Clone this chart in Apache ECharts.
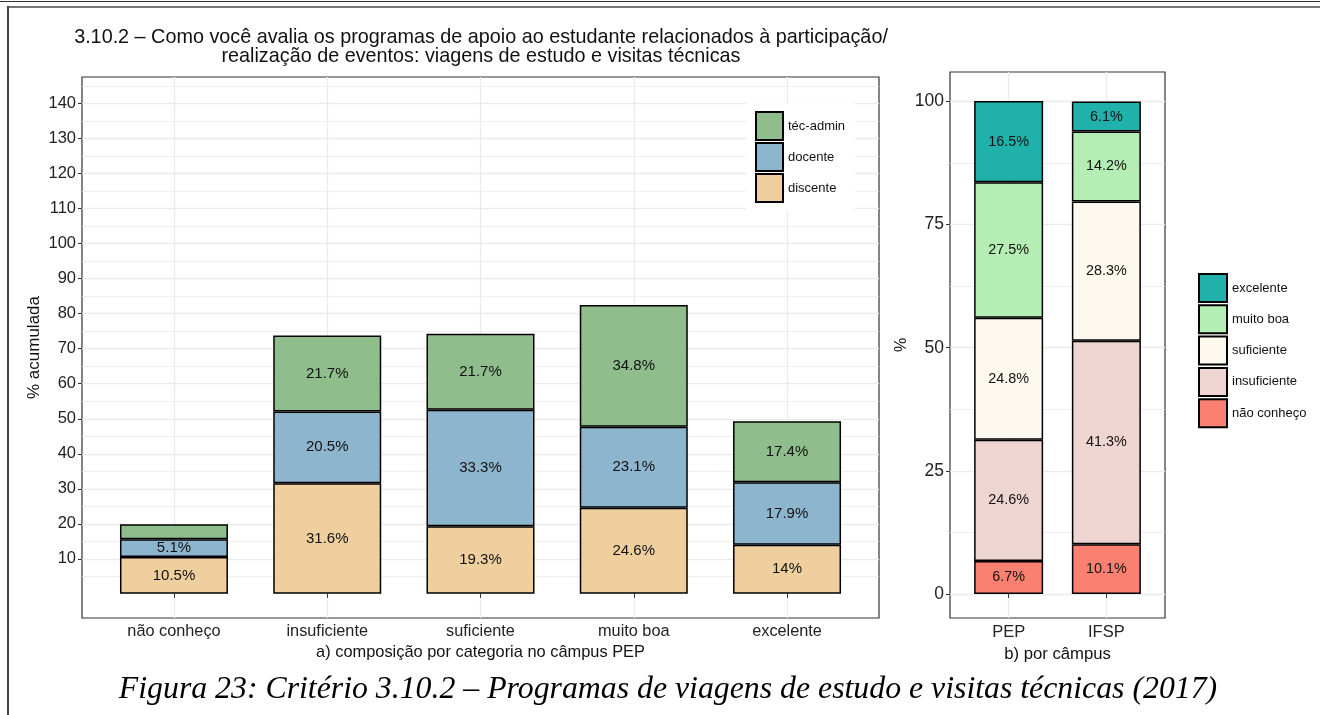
<!DOCTYPE html>
<html>
<head>
<meta charset="utf-8">
<script src="https://cdn.jsdelivr.net/npm/echarts@6/dist/echarts.min.js"></script>
<style>
  html, body { margin:0; padding:0; background:#fff; }
  #chart { position:absolute; left:0; top:0; width:1320px; height:715px; }
  .ln { position:absolute; pointer-events:none; }
</style>
</head>
<body>
<div id="chart"></div>
<div class="ln" style="left:0;top:1px;width:1320px;height:1px;background:#333;"></div>
<div class="ln" style="left:7px;top:6px;width:1313px;height:2px;background:#777;"></div>
<div class="ln" style="left:7px;top:6px;width:2px;height:709px;background:#444;"></div>
<script>
// a) composição por categoria no câmpus PEP
var cats = ['não conheço', 'insuficiente', 'suficiente', 'muito boa', 'excelente'];
var discente = [10.5, 31.6, 19.3, 24.6, 14];
var docente = [5.1, 20.5, 33.3, 23.1, 17.9];
var tecAdmin = [4.3, 21.7, 21.7, 34.8, 17.4];
var leftTicks = [10, 20, 30, 40, 50, 60, 70, 80, 90, 100, 110, 120, 130, 140];

// b) por câmpus
var campus = ['PEP', 'IFSP'];
var naoConheco = [6.7, 10.1];
var insuficiente = [24.6, 41.3];
var suficiente = [24.8, 28.3];
var muitoBoa = [27.5, 14.2];
var excelente = [16.5, 6.1];
var rightTicks = [0, 25, 50, 75, 100];

var FONT = '"Liberation Sans", Arial, sans-serif';
var GRID = '#ebebeb';

var leftMinor = leftTicks.map(function(t){ return t - 5; }).concat([145]);
var rightMinor = rightTicks.slice(1).map(function(t){ return t - 12.5; });
var leftPos = cats.map(function(c, i){ return i + 1; });
var rightPos = campus.map(function(c, i){ return i + 1; });

// painéis (moldura) e área dos dados com a expansão de 0.6 do ggplot
var LP = { left: 82, top: 77, width: 797, height: 541 };
var RP = { left: 950, top: 72, width: 215, height: 546 };
function inner(p, n){
  var u = p.width / (n + 0.2);
  return { left: p.left + 0.1 * u, top: p.top, width: n * u, height: p.height };
}
var LD = inner(LP, cats.length);
var RD = inner(RP, campus.length);

function barSeries(name, vals, color, xi, yi, stack, width, fs, hideSmall){
  return {
    name: name, type: 'bar', stack: stack,
    xAxisIndex: xi, yAxisIndex: yi,
    data: vals,
    barWidth: width,
    itemStyle: { color: color, borderColor: '#000', borderWidth: 1.5 },
    label: {
      show: true, position: 'inside', color: '#111', fontFamily: FONT, fontSize: fs,
      formatter: function(p){
        if (hideSmall && p.value < 5) return '';
        return p.value + '%';
      }
    },
    emphasis: { disabled: true }
  };
}

function frameX(grid, lo, hi, pos, labels, name, gap, fs, nfs){
  return {
    type: 'value', gridIndex: grid, min: lo, max: hi,
    name: name, nameLocation: 'middle', nameGap: gap,
    nameTextStyle: { fontFamily: FONT, fontSize: nfs, color: '#111' },
    axisLine: { show: false },
    axisTick: { show: true, length: 4, customValues: pos, lineStyle: { color: '#333' } },
    axisLabel: { customValues: pos, margin: 6, fontFamily: FONT, fontSize: fs, color: '#222',
      formatter: function(v){ return labels[Math.round(v) - 1]; } },
    splitLine: { show: true, lineStyle: { color: GRID, width: 1.4 } }
  };
}

function frameY(grid, lo, hi, ticks, name, gap, fs, nfs){
  return {
    type: 'value', gridIndex: grid, min: lo, max: hi,
    name: name, nameLocation: 'middle', nameGap: gap, nameRotate: 90, nameMoveOverlap: false,
    nameTextStyle: { fontFamily: FONT, fontSize: nfs, color: '#111' },
    axisLine: { show: false },
    axisTick: { show: true, length: 4, customValues: ticks, lineStyle: { color: '#333' } },
    axisLabel: { customValues: ticks, margin: 6, fontFamily: FONT, fontSize: fs, color: '#222' },
    splitLine: { show: true, lineStyle: { color: GRID, width: 1.4 } }
  };
}

function minorY(grid, lo, hi, ticks){
  return {
    type: 'value', gridIndex: grid, min: lo, max: hi,
    axisLine: { show: false },
    axisTick: { show: false, customValues: ticks },
    axisLabel: { show: false },
    splitLine: { show: true, lineStyle: { color: GRID, width: 0.8 } }
  };
}

function hiddenY(grid, lo, hi){
  return { type: 'value', gridIndex: grid, min: lo, max: hi, show: false, splitLine: { show: false } };
}

var myChart = echarts.init(document.getElementById('chart'));
var option = {
  animation: false,
  textStyle: { fontFamily: FONT },
  graphic: [
    {
      type: 'text', x: 481, y: 28,
      style: {
        text: '3.10.2 – Como você avalia os programas de apoio ao estudante relacionados à participação/\nrealização de eventos: viagens de estudo e visitas técnicas',
        font: '19.8px ' + FONT, fill: '#111', textAlign: 'center', lineHeight: 19
      }
    },
    {
      type: 'text', x: 668, y: 674,
      style: {
        text: 'Figura 23: Critério 3.10.2 – Programas de viagens de estudo e visitas técnicas (2017)',
        font: 'italic 31.8px "Liberation Serif", "Times New Roman", serif', fill: '#000', textAlign: 'center'
      }
    }
  ],
  grid: [
    { left: LP.left, top: LP.top, width: LP.width, height: LP.height, show: true, borderColor: '#333', borderWidth: 1.2, backgroundColor: '#fff' },
    { left: RP.left, top: RP.top, width: RP.width, height: RP.height, show: true, borderColor: '#333', borderWidth: 1.2, backgroundColor: '#fff' },
    { left: LD.left, top: LD.top, width: LD.width, height: LD.height, show: false },
    { left: RD.left, top: RD.top, width: RD.width, height: RD.height, show: false }
  ],
  legend: [
    {
      data: ['téc-admin', 'docente', 'discente'],
      orient: 'vertical', left: 746, top: 103,
      padding: [8, 10, 8, 9], backgroundColor: '#fff',
      itemWidth: 27, itemHeight: 28, itemGap: 1, icon: 'rect',
      selectedMode: false,
      textStyle: { fontFamily: FONT, fontSize: 13, color: '#111' }
    },
    {
      data: ['excelente', 'muito boa', 'suficiente', 'insuficiente', 'não conheço'],
      orient: 'vertical', left: 1189, top: 265,
      padding: [8, 8, 8, 9],
      itemWidth: 28, itemHeight: 28, itemGap: 1.3, icon: 'rect',
      selectedMode: false,
      textStyle: { fontFamily: FONT, fontSize: 13, color: '#111' }
    }
  ],
  xAxis: [
    frameX(0, 0.4, cats.length + 0.6, leftPos, cats, 'a) composição por categoria no câmpus PEP', 26, 16.3, 16.4),
    frameX(1, 0.4, campus.length + 0.6, rightPos, campus, 'b) por câmpus', 28, 16.5, 16.7),
    { type: 'category', gridIndex: 2, data: cats, show: false, boundaryGap: true },
    { type: 'category', gridIndex: 3, data: campus, show: false, boundaryGap: true }
  ],
  yAxis: [
    frameY(0, -6.9, 147.6, leftTicks, '% acumulada', 39, 16.5, 17),
    minorY(0, -6.9, 147.6, leftMinor),
    frameY(1, -4.9, 106, rightTicks, '%', 40, 17.5, 16),
    minorY(1, -4.9, 106, rightMinor),
    hiddenY(2, -6.9, 147.6),
    hiddenY(3, -4.9, 106)
  ],
  series: [
    barSeries('discente', discente, '#EECF9D', 2, 4, 'a', 108, 15, true),
    barSeries('docente', docente, '#8DB5CD', 2, 4, 'a', 108, 15, true),
    barSeries('téc-admin', tecAdmin, '#8FBD8B', 2, 4, 'a', 108, 15, true),
    barSeries('não conheço', naoConheco, '#FA8072', 3, 5, 'b', 69, 14.4, false),
    barSeries('insuficiente', insuficiente, '#EED5D2', 3, 5, 'b', 69, 14.4, false),
    barSeries('suficiente', suficiente, '#FDF9EF', 3, 5, 'b', 69, 14.4, false),
    barSeries('muito boa', muitoBoa, '#B4EEB4', 3, 5, 'b', 69, 14.4, false),
    barSeries('excelente', excelente, '#20B2AA', 3, 5, 'b', 69, 14.4, false)
  ]
};
myChart.setOption(option);
</script>
</body>
</html>
